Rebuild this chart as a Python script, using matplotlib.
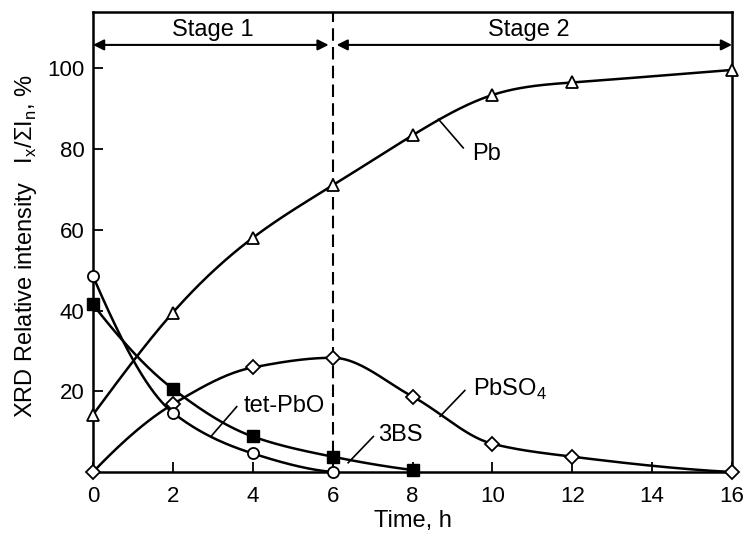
import numpy as np
import matplotlib
matplotlib.use('Agg')
import matplotlib.pyplot as plt

plt.rcParams['font.family'] = ['Liberation Sans', 'DejaVu Sans']
plt.rcParams['mathtext.fontset'] = 'custom'
plt.rcParams['mathtext.rm'] = 'Liberation Sans'

# data
t_pb = [0, 2, 4, 6, 8, 10, 12, 16]
pb = [14.2, 39.5, 58.0, 71.0, 83.4, 93.4, 96.5, 99.6]

t_so4 = [0, 2, 4, 6, 8, 10, 12, 16]
pbso4 = [0.0, 16.8, 25.9, 28.3, 18.7, 7.0, 3.8, 0.0]

t_tet = [0, 2, 4, 6]
tet_pbo = [48.5, 14.7, 4.6, 0.0]

t_3bs = [0, 2, 4, 6, 8]
bs3 = [41.5, 20.6, 8.8, 3.8, 0.5]

xticks = [0, 2, 4, 6, 8, 10, 12, 14, 16]
yticks = [20, 40, 60, 80, 100]


def hermite(x, y, m, xs):
    h = np.diff(x)
    idx = np.clip(np.searchsorted(x, xs) - 1, 0, len(x) - 2)
    s = (xs - x[idx]) / h[idx]
    h00 = 2*s**3 - 3*s**2 + 1
    h10 = s**3 - 2*s**2 + s
    h01 = -2*s**3 + 3*s**2
    h11 = s**3 - s**2
    return h00*y[idx] + h10*h[idx]*m[idx] + h01*y[idx+1] + h11*h[idx]*m[idx+1]


def pchip(x, y, xs):
    # monotone cubic (Fritsch-Carlson), only used to draw the smooth line
    x = np.asarray(x, float)
    y = np.asarray(y, float)
    h = np.diff(x)
    d = np.diff(y) / h
    n = len(x)
    m = np.zeros(n)
    for k in range(1, n - 1):
        if d[k-1] * d[k] > 0:
            w1 = 2*h[k] + h[k-1]
            w2 = h[k] + 2*h[k-1]
            m[k] = (w1 + w2) / (w1/d[k-1] + w2/d[k])
    m[0] = ((2*h[0] + h[1])*d[0] - h[0]*d[1]) / (h[0] + h[1])
    if np.sign(m[0]) != np.sign(d[0]):
        m[0] = 0
    m[-1] = ((2*h[-1] + h[-2])*d[-1] - h[-1]*d[-2]) / (h[-1] + h[-2])
    if np.sign(m[-1]) != np.sign(d[-1]):
        m[-1] = 0
    return hermite(x, y, m, xs)


def natural_spline(x, y, xs):
    x = np.asarray(x, float)
    y = np.asarray(y, float)
    n = len(x)
    h = np.diff(x)
    A = np.zeros((n, n))
    b = np.zeros(n)
    A[0, 0] = 2*h[0]; A[0, 1] = h[0]
    b[0] = 3*(y[1] - y[0])
    A[-1, -1] = 2*h[-1]; A[-1, -2] = h[-1]
    b[-1] = 3*(y[-1] - y[-2])
    for k in range(1, n - 1):
        A[k, k-1] = h[k]
        A[k, k] = 2*(h[k-1] + h[k])
        A[k, k+1] = h[k-1]
        b[k] = 3*(h[k]*(y[k]-y[k-1])/h[k-1] + h[k-1]*(y[k+1]-y[k])/h[k])
    m = np.linalg.solve(A, b)
    return hermite(x, y, m, xs)


fig = plt.figure(figsize=(7.5, 5.37), dpi=100)
ax = fig.add_axes([0.124, 0.121, 0.852, 0.857])

series = [
    (t_pb, pb, '^', natural_spline),
    (t_so4, pbso4, 'D', pchip),
    (t_tet, tet_pbo, 'o', pchip),
    (t_3bs, bs3, 's', pchip),
]
for tx, ty, mk, interp in series:
    xs = np.linspace(tx[0], tx[-1], 400)
    ax.plot(xs, interp(tx, ty, xs), color='black', lw=1.8, clip_on=False, zorder=3)
    if mk == 's':
        ax.plot(tx, ty, mk, ms=8, mfc='black', mec='black', clip_on=False, zorder=4)
    else:
        ms = 7 if mk == 'D' else 8
        ax.plot(tx, ty, mk, ms=ms, mfc='white', mec='black', mew=1.3, clip_on=False, zorder=4)

ax.axvline(6, color='black', lw=1.5, ls=(0, (6, 3)), zorder=2)

# stage arrows
arr = dict(arrowstyle='<|-|>', color='black', lw=1.5, mutation_scale=16, shrinkA=0, shrinkB=0)
ax.annotate('', xy=(0, 105.8), xytext=(5.9, 105.8), arrowprops=arr)
ax.annotate('', xy=(6.1, 105.8), xytext=(16, 105.8), arrowprops=arr)
ax.text(3, 109.6, 'Stage 1', ha='center', va='center', fontsize=17)
ax.text(10.9, 109.6, 'Stage 2', ha='center', va='center', fontsize=17)

# labels with leader lines
leaders = [
    ('Pb', (9.49, 78.9), (9.27, 80.3), (8.65, 87.4)),
    ('tet-PbO', (3.76, 16.4), (3.6, 16.2), (2.97, 9.0)),
    ('3BS', (7.14, 9.2), (7.02, 8.8), (6.39, 2.3)),
    ('PbSO$_4$', (9.51, 20.4), (9.31, 20.2), (8.69, 13.8)),
]
for lab, tpos, p0, p1 in leaders:
    ax.text(tpos[0], tpos[1], lab, ha='left', va='center', fontsize=17)
    ax.plot([p0[0], p1[0]], [p0[1], p1[1]], color='black', lw=1.2)

ax.set_xlim(0, 16)
ax.set_ylim(0, 114)
ax.set_xticks(xticks)
ax.set_yticks(yticks)
ax.tick_params(direction='in', length=7, width=1.3, labelsize=16)
ax.tick_params(axis='x', pad=10)
ax.tick_params(axis='y', pad=6)
for sp in ax.spines.values():
    sp.set_linewidth(1.8)

ax.set_xlabel('Time, h', fontsize=17, labelpad=2)
ax.set_ylabel(r'XRD Relative intensity   I$_{\mathregular{x}}$/ΣI$_{\mathregular{n}}$, %',
              fontsize=17)
ax.yaxis.set_label_coords(-0.085, 0.49)

fig.savefig('out.png', dpi=100)
